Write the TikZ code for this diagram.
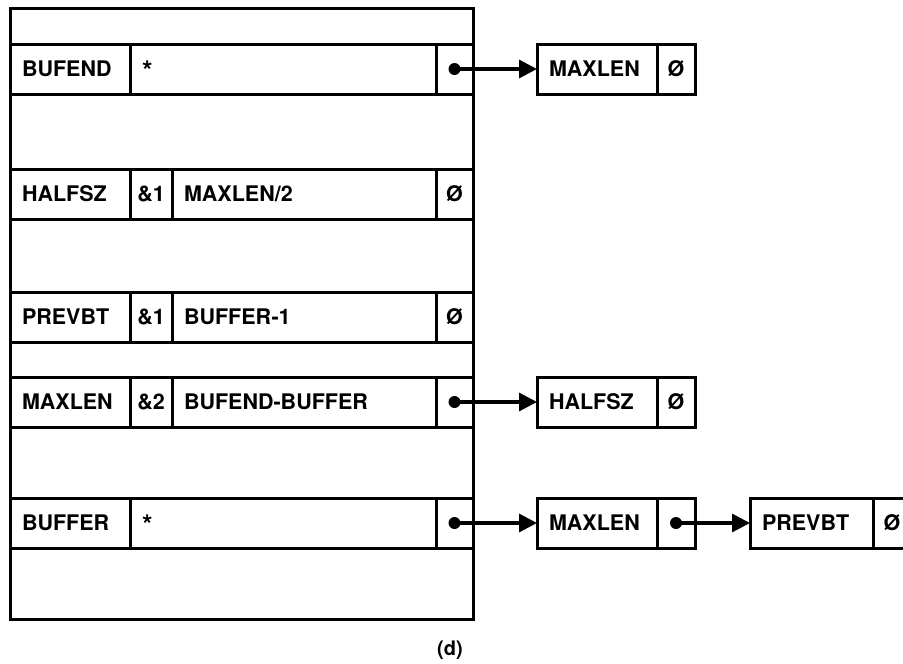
\documentclass[tikz,border=0pt]{standalone}
\usepackage{fontspec}
\setmainfont{TeX Gyre Heros}
\usetikzlibrary{arrows.meta, positioning}

\begin{document}
\begin{tikzpicture}[x=1pt, y=-1pt, node distance=0pt]
    % Cada linha do bloco é uma fila de células coladas (right=0pt), com
    % outer sep=0 para que as bordas vizinhas fiquem sobrepostas.
    \tikzstyle{celula} = [rectangle, draw=black, line width=3pt,
        minimum height=50pt, inner sep=0pt, outer sep=0pt, text height=16pt,
        text depth=1pt, font=\fontsize{21.5}{24}\selectfont\bfseries]
    \tikzstyle{campo} = [celula, inner xsep=12pt, align=left]
    \tikzstyle{seta} = [line width=3.2pt, -{Triangle[length=18pt,width=18pt]}]
    \newcommand{\estrela}{\raisebox{-4pt}{\fontsize{27}{24}\selectfont *}}

    \useasboundingbox (0,0) rectangle (903,664);
    \draw [line width=3pt] (10,8) rectangle (473,619);

    \node (bufend) [campo, text width=96pt, anchor=north west] at (10,44) {BUFEND};
    \node (bufendval) [campo, text width=282pt, right=of bufend] {\estrela};
    \node (bufendptr) [celula, minimum width=37pt, right=of bufendval] {};

    \node (halfsz) [campo, text width=96pt, anchor=north west] at (10,169) {HALFSZ};
    \node (halfszmod) [celula, minimum width=42pt, right=of halfsz] {\&1};
    \node (halfszval) [campo, text width=240pt, right=of halfszmod] {MAXLEN/2};
    \node (halfsznil) [celula, minimum width=37pt, right=of halfszval] {Ø};

    \node (prevbt) [campo, text width=96pt, anchor=north west] at (10,292) {PREVBT};
    \node (prevbtmod) [celula, minimum width=42pt, right=of prevbt] {\&1};
    \node (prevbtval) [campo, text width=240pt, right=of prevbtmod] {BUFFER-1};
    \node (prevbtnil) [celula, minimum width=37pt, right=of prevbtval] {Ø};

    \node (maxlen) [campo, text width=96pt, anchor=north west] at (10,377) {MAXLEN};
    \node (maxlenmod) [celula, minimum width=42pt, right=of maxlen] {\&2};
    \node (maxlenval) [campo, text width=240pt, right=of maxlenmod] {BUFEND-BUFFER};
    \node (maxlenptr) [celula, minimum width=37pt, right=of maxlenval] {};

    \node (buffer) [campo, text width=96pt, anchor=north west] at (10,498) {BUFFER};
    \node (bufferval) [campo, text width=282pt, right=of buffer] {\estrela};
    \node (bufferptr) [celula, minimum width=37pt, right=of bufferval] {};

    % listas de referências à direita
    \node (alvo1) [campo, text width=96pt, right=64pt of bufendptr] {MAXLEN};
    \node (alvo1nil) [celula, minimum width=38pt, right=of alvo1] {Ø};
    \node (alvo2) [campo, text width=96pt, right=64pt of maxlenptr] {HALFSZ};
    \node (alvo2nil) [celula, minimum width=38pt, right=of alvo2] {Ø};
    \node (alvo3) [campo, text width=96pt, right=64pt of bufferptr] {MAXLEN};
    \node (alvo3ptr) [celula, minimum width=38pt, right=of alvo3] {};
    \node (alvo4) [campo, text width=99pt, right=55pt of alvo3ptr] {PREVBT};
    \node (alvo4nil) [celula, minimum width=38pt, right=of alvo4] {Ø};

    \fill (bufendptr.center) circle (6pt);
    \fill (maxlenptr.center) circle (6pt);
    \fill (bufferptr.center) circle (6pt);
    \fill (alvo3ptr.center) circle (6pt);
    \draw [seta] (bufendptr.center) -- (alvo1.west);
    \draw [seta] (maxlenptr.center) -- (alvo2.west);
    \draw [seta] (bufferptr.center) -- (alvo3.west);
    \draw [seta] (alvo3ptr.center) -- (alvo4.west);

    \node (legenda) [font=\fontsize{20}{24}\selectfont\bfseries] at (450,650) {(d)};
\end{tikzpicture}
\end{document}
